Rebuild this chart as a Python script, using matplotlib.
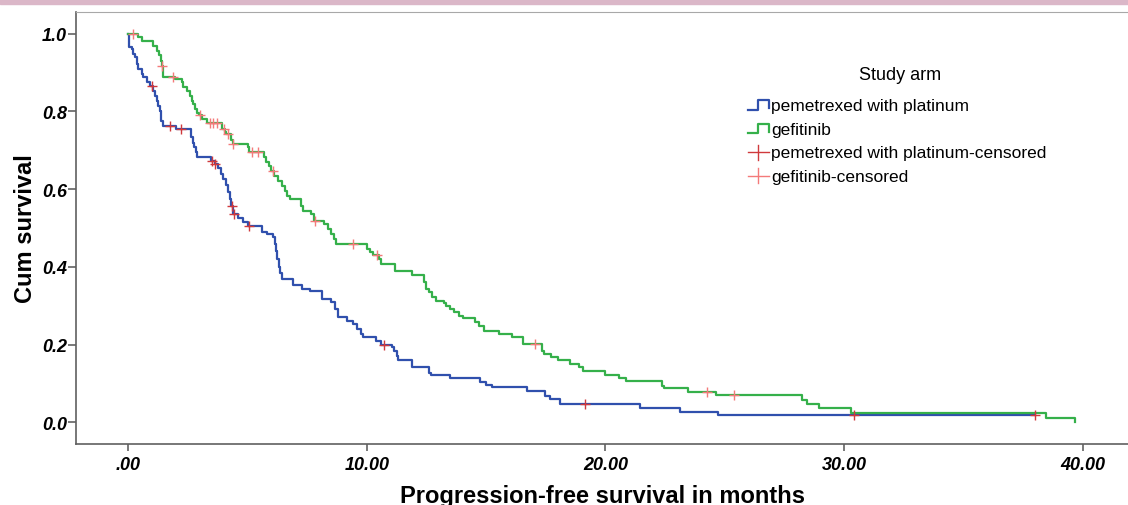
import numpy as np
import matplotlib
matplotlib.use("Agg")
import matplotlib.pyplot as plt
from matplotlib.legend_handler import HandlerBase
from matplotlib.lines import Line2D
from matplotlib.patches import Rectangle

plt.rcParams["font.family"] = ["Liberation Sans", "DejaVu Sans"]

# pemetrexed with platinum: step times (months) and survival after each step
pem_t = [0, 0.05, 0.14, 0.21, 0.28, 0.35, 0.42, 0.56, 0.63, 0.77, 0.91, 1.05, 1.12,
         1.19, 1.26, 1.33, 1.37, 1.44, 2.0, 2.62, 2.70, 2.76, 2.84, 2.90, 3.45, 3.62,
         3.76, 3.88, 3.98, 4.08, 4.18, 4.26, 4.32, 4.40, 4.60, 4.80, 5.0, 5.6, 5.8,
         6.08, 6.14, 6.2, 6.25, 6.31, 6.38, 6.45, 6.9, 7.3, 7.62, 8.1, 8.5, 8.65, 8.8,
         9.15, 9.4, 9.6, 9.75, 9.85, 10.4, 10.6, 11.05, 11.12, 11.25, 11.32, 11.9,
         12.6, 12.7, 13.5, 14.75, 15.0, 15.24, 16.7, 17.46, 17.67, 18.1, 21.45,
         23.12, 24.7]
pem_s = [1.0, 0.965, 0.961, 0.948, 0.939, 0.922, 0.909, 0.896, 0.888, 0.875, 0.866,
         0.853, 0.840, 0.828, 0.815, 0.802, 0.776, 0.763, 0.755, 0.733, 0.720, 0.708,
         0.695, 0.683, 0.672, 0.665, 0.655, 0.640, 0.625, 0.610, 0.592, 0.575, 0.557,
         0.535, 0.525, 0.515, 0.505, 0.490, 0.485, 0.478, 0.460, 0.440, 0.420, 0.400,
         0.385, 0.369, 0.352, 0.343, 0.337, 0.317, 0.309, 0.292, 0.271, 0.261, 0.252,
         0.240, 0.226, 0.220, 0.210, 0.198, 0.193, 0.184, 0.171, 0.159, 0.143, 0.128,
         0.122, 0.114, 0.103, 0.096, 0.091, 0.081, 0.068, 0.060, 0.048, 0.037, 0.027,
         0.019]
pem_end = 38.0
pem_cens = [0.98, 1.75, 2.2, 3.5, 3.63, 4.34, 4.42, 5.06, 10.7, 19.13, 30.4, 38.0]

# gefitinib
gef_t = [0, 0.42, 0.56, 1.05, 1.19, 1.30, 1.36, 1.40, 1.44, 1.47, 1.96, 2.24, 2.30,
         2.45, 2.59, 2.66, 2.72, 2.80, 2.89, 2.97, 3.07, 3.30, 3.93, 4.05, 4.10, 4.30,
         4.37, 5.00, 5.08, 5.70, 5.78, 5.90, 6.00, 6.12, 6.29, 6.43, 6.57, 6.67, 6.78,
         7.25, 7.33, 7.66, 7.78, 8.20, 8.36, 8.50, 8.64, 8.72, 9.99, 10.13, 10.27,
         10.50, 10.60, 11.20, 11.90, 12.40, 12.47, 12.60, 12.75, 12.90, 13.25, 13.33,
         13.47, 13.65, 13.88, 14.02, 14.55, 14.72, 14.90, 15.53, 16.07, 16.55, 17.36,
         17.42, 17.70, 18.02, 18.52, 18.90, 19.05, 19.96, 20.56, 20.88, 22.38, 22.44,
         23.47, 24.65, 28.22, 28.43, 28.96, 30.28, 38.45, 39.68]
gef_s = [1.0, 0.991, 0.982, 0.969, 0.956, 0.946, 0.930, 0.918, 0.905, 0.889, 0.883,
         0.875, 0.862, 0.853, 0.840, 0.828, 0.819, 0.806, 0.797, 0.791, 0.780, 0.769,
         0.755, 0.746, 0.742, 0.727, 0.716, 0.708, 0.695, 0.682, 0.670, 0.660, 0.647,
         0.635, 0.622, 0.609, 0.596, 0.583, 0.575, 0.557, 0.545, 0.536, 0.519, 0.510,
         0.497, 0.485, 0.472, 0.460, 0.446, 0.437, 0.430, 0.420, 0.407, 0.390, 0.379,
         0.360, 0.343, 0.335, 0.322, 0.313, 0.308, 0.300, 0.292, 0.283, 0.274, 0.269,
         0.257, 0.249, 0.236, 0.227, 0.219, 0.201, 0.184, 0.176, 0.167, 0.159, 0.150,
         0.142, 0.133, 0.122, 0.113, 0.106, 0.094, 0.088, 0.079, 0.069, 0.056, 0.047,
         0.036, 0.023, 0.010, 0.0]
gef_end = 39.68
gef_cens = [0.18, 1.41, 1.86, 3.0, 3.42, 3.56, 3.70, 4.0, 4.19, 4.40, 5.17, 5.45,
            6.05, 7.82, 9.40, 10.42, 17.05, 24.27, 25.39]

x_ticks = [0, 10, 20, 30, 40]
x_labels = [".00", "10.00", "20.00", "30.00", "40.00"]
y_ticks = [0.0, 0.2, 0.4, 0.6, 0.8, 1.0]

BLUE = "#3050ad"
GREEN = "#35b04a"
RED_DARK = "#d0393c"
RED_LIGHT = "#f47a7a"


def survival_at(times, surv, when):
    idx = np.searchsorted(times, when, side="right") - 1
    return np.asarray(surv)[idx]


class StepHandler(HandlerBase):
    def create_artists(self, legend, orig_handle, xdescent, ydescent, width, height, fontsize, trans):
        w, h = width, height
        x = np.array([0, 0.5 * w, 0.5 * w, w, w]) - xdescent
        y = np.array([0.05 * h, 0.05 * h, 0.8 * h, 0.8 * h, 0.15 * h]) - ydescent
        line = Line2D(x, y, color=orig_handle.get_color(), lw=1.6)
        line.set_transform(trans)
        return [line]


class CrossHandler(HandlerBase):
    def create_artists(self, legend, orig_handle, xdescent, ydescent, width, height, fontsize, trans):
        w, h = width, height
        c = orig_handle.get_markeredgecolor()
        hline = Line2D(np.array([0, w]) - xdescent, np.array([0.4 * h, 0.4 * h]) - ydescent, color=c, lw=1.0)
        vline = Line2D(np.array([0.5 * w, 0.5 * w]) - xdescent, np.array([-0.2 * h, 1.0 * h]) - ydescent, color=c, lw=1.0)
        hline.set_transform(trans)
        vline.set_transform(trans)
        return [hline, vline]


fig = plt.figure(figsize=(11.28, 5.06), dpi=100)
fig.patches.append(Rectangle((0, 1 - 5 / 506), 1, 5 / 506, transform=fig.transFigure,
                             color="#dbb7c8", zorder=0))
ax = fig.add_axes([76 / 1128, 1 - 445 / 506, 1 - 76 / 1128, (445 - 13) / 506])

pem_line, = ax.step(pem_t + [pem_end], pem_s + [pem_s[-1]], where="post", color=BLUE, lw=1.6)
gef_line, = ax.step(gef_t, gef_s, where="post", color=GREEN, lw=1.6)
pem_c, = ax.plot(pem_cens, survival_at(pem_t, pem_s, pem_cens), ls="none", marker="+",
                 ms=7, mew=1.0, color=RED_DARK, mec=RED_DARK)
gef_c, = ax.plot(gef_cens, survival_at(gef_t, gef_s, gef_cens), ls="none", marker="+",
                 ms=7, mew=1.0, color=RED_LIGHT, mec=RED_LIGHT)

ax.set_xlim(-2.19, 41.9)
ax.set_ylim(-0.056, 1.056)
ax.set_xticks(x_ticks)
ax.set_xticklabels(x_labels)
ax.set_yticks(y_ticks)
ax.set_yticklabels([f"{v:.1f}" for v in y_ticks])
for lab in ax.get_xticklabels() + ax.get_yticklabels():
    lab.set_fontweight("bold")
    lab.set_fontstyle("italic")
    lab.set_fontsize(13)
ax.tick_params(axis="x", length=5, width=1.1, color="#555555", pad=4)
ax.tick_params(axis="y", length=5.5, width=1.1, color="#555555", pad=1)

ax.spines["right"].set_visible(False)
ax.spines["top"].set_color("#a8a8a8")
ax.spines["left"].set_color("#606060")
ax.spines["bottom"].set_color("#606060")
ax.spines["left"].set_linewidth(1.2)
ax.spines["bottom"].set_linewidth(1.2)

ax.set_xlabel("Progression-free survival in months", fontsize=17, fontweight="bold")
ax.set_ylabel("Cum survival", fontsize=17, fontweight="bold")
ax.xaxis.set_label_coords(0.5, -0.092)
ax.yaxis.set_label_coords(-0.037, 0.5)

leg = ax.legend([pem_line, gef_line, pem_c, gef_c],
                ["pemetrexed with platinum", "gefitinib",
                 "pemetrexed with platinum-censored", "gefitinib-censored"],
                handler_map={pem_line: StepHandler(), gef_line: StepHandler(),
                             pem_c: CrossHandler(), gef_c: CrossHandler()},
                fontsize=12.5, frameon=False,
                loc="upper left", bbox_to_anchor=(748 / 1128, 1 - 99 / 506),
                bbox_transform=fig.transFigure, borderaxespad=0, borderpad=0,
                handlelength=1.2, handletextpad=0.15, labelspacing=0.48)
fig.text(900 / 1128, 1 - 76 / 506, "Study arm", fontsize=13, ha="center", va="center")

plt.savefig("out.png", dpi=100)
